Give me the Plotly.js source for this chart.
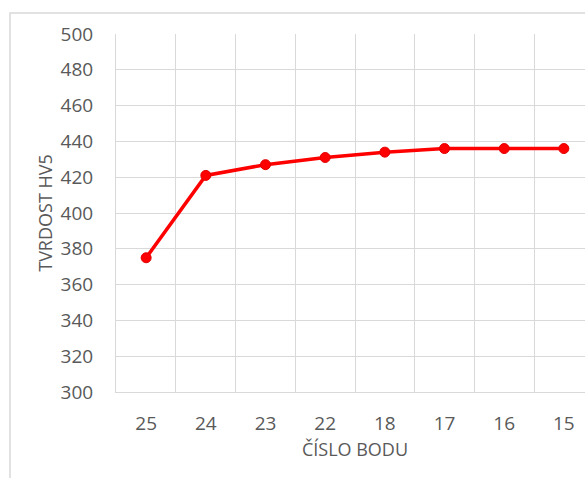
<!DOCTYPE html>
<html>
<head>
<meta charset="utf-8">
<script src="https://cdn.plot.ly/plotly-3.0.1.min.js"></script>
<style>
html,body{margin:0;padding:0;overflow:hidden;background:#fff;}
#chart{width:610px;height:478px;}
</style>
</head>
<body>
<div id="chart"></div>
<script>
const categories = ["25", "24", "23", "22", "18", "17", "16", "15"];
const hardness = [375, 421, 427, 431, 434, 436, 436, 436];
const yTitle = "TVRDOST HV5";
const xTitle = "ČÍSLO BODU";

const trace = {
  x: categories,
  y: hardness,
  type: "scatter",
  mode: "lines+markers",
  line: {color: "#ff0000", width: 3.5},
  marker: {color: "#ff0000", size: 10, line: {color: "#e00000", width: 1}},
  hoverinfo: "x+y"
};

const font = {family: "Open Sans, sans-serif", color: "#595959"};

const layout = {
  width: 610,
  height: 478,
  margin: {l: 116, r: 16, t: 34, b: 86},
  paper_bgcolor: "#ffffff",
  plot_bgcolor: "#ffffff",
  showlegend: false,
  xaxis: {
    type: "category",
    tickson: "boundaries",
    showgrid: true,
    gridcolor: "#d9d9d9",
    gridwidth: 1,
    showline: true,
    linecolor: "#d9d9d9",
    linewidth: 1,
    zeroline: false,
    ticks: "",
    ticklabelstandoff: 14,
    tickfont: Object.assign({size: 19}, font),
    title: {text: xTitle, font: Object.assign({size: 18}, font), standoff: 8}
  },
  yaxis: {
    range: [300, 500],
    dtick: 20,
    showgrid: true,
    gridcolor: "#d9d9d9",
    gridwidth: 1,
    showline: true,
    linecolor: "#d9d9d9",
    linewidth: 1,
    zeroline: false,
    ticks: "",
    ticklabelstandoff: 18,
    tickfont: Object.assign({size: 19}, font),
    title: {text: yTitle, font: Object.assign({size: 18}, font), standoff: 3}
  },
  shapes: [{
    type: "rect",
    xref: "paper", yref: "paper",
    x0: -0.2218, x1: 1.5, y0: -0.5, y1: 1.0587,
    line: {color: "#d9d9d9", width: 1.5},
    layer: "below"
  }]
};

Plotly.newPlot("chart", [trace], layout, {displayModeBar: false, staticPlot: true});
</script>
</body>
</html>
